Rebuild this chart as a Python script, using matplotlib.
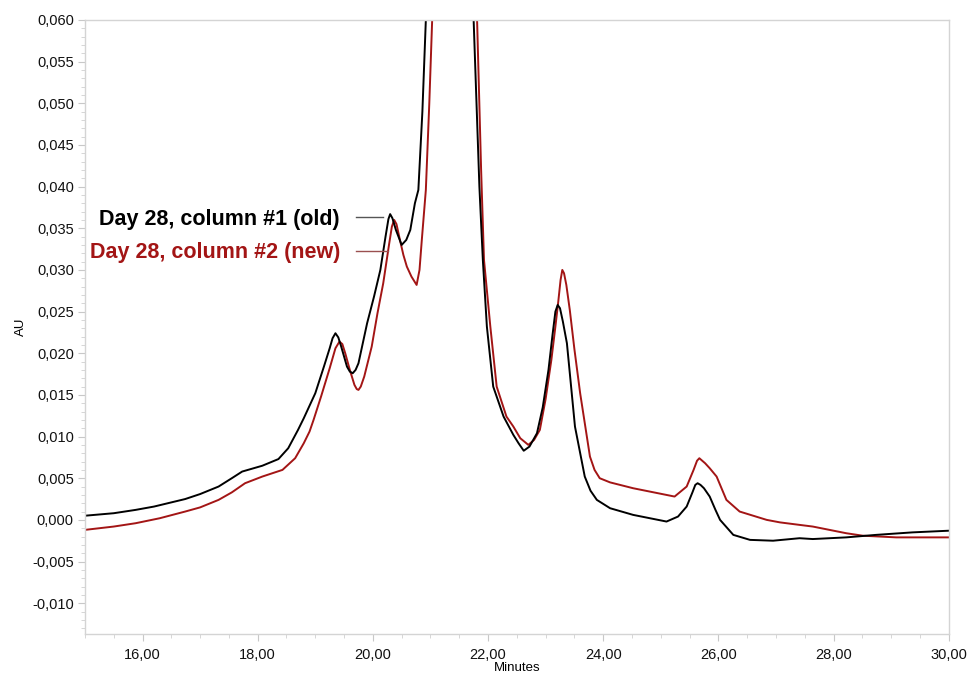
import matplotlib
matplotlib.use("Agg")
import matplotlib.pyplot as plt
from matplotlib.ticker import MultipleLocator, FuncFormatter

plt.rcParams['font.family'] = ['Liberation Sans', 'DejaVu Sans']

# Black trace: Day 28, column #1 (old)
old_minutes = [15.0, 15.5, 15.88, 16.2, 16.74, 17.0, 17.32, 17.55, 17.73, 18.08, 18.36, 18.53,
               18.7, 18.8, 19.0, 19.15, 19.25, 19.3, 19.35, 19.4, 19.45, 19.55, 19.6, 19.65,
               19.7, 19.75, 19.9, 20.02, 20.13, 20.22, 20.27, 20.3, 20.34, 20.4, 20.5, 20.58,
               20.65, 20.73, 20.79, 20.86, 20.92, 21.0, 21.1, 21.3, 21.5, 21.65, 21.75, 21.85,
               21.91, 21.98, 22.09, 22.27, 22.44, 22.53, 22.62, 22.72, 22.85, 22.95, 23.05,
               23.12, 23.17, 23.21, 23.25, 23.3, 23.37, 23.51, 23.68, 23.78, 23.89, 24.12,
               24.52, 25.1, 25.3, 25.45, 25.55, 25.6, 25.64, 25.69, 25.75, 25.85, 25.95,
               26.03, 26.26, 26.55, 26.95, 27.41, 27.64, 28.22, 28.74, 29.37, 30.0]
old_au = [0.0005, 0.0008, 0.0012, 0.0016, 0.0025, 0.0031, 0.0040, 0.0050, 0.0058, 0.0065,
          0.0073, 0.0086, 0.0108, 0.0122, 0.0152, 0.0184, 0.0206, 0.0218, 0.0224, 0.0219,
          0.0208, 0.0184, 0.0178, 0.0176, 0.0180, 0.0188, 0.0236, 0.0268, 0.0300, 0.0340,
          0.0361, 0.0367, 0.0362, 0.0348, 0.0330, 0.0336, 0.0348, 0.0380, 0.0396, 0.0490,
          0.0600, 0.0850, 0.1150, 0.1500, 0.1300, 0.0900, 0.0600, 0.0400, 0.0312, 0.0232,
          0.0160, 0.0124, 0.0102, 0.0092, 0.0083, 0.0088, 0.0104, 0.0135, 0.0180, 0.0222,
          0.0250, 0.0258, 0.0254, 0.0238, 0.0212, 0.0112, 0.0052, 0.0035, 0.0024, 0.0014,
          0.0006, -0.0002, 0.0004, 0.0016, 0.0033, 0.0042, 0.0044, 0.0042, 0.0038, 0.0028,
          0.0012, 0.0000, -0.0018, -0.0024, -0.0025, -0.0022, -0.0023, -0.0021, -0.0018,
          -0.0015, -0.0013]

# Red trace: Day 28, column #2 (new)
new_minutes = [15.0, 15.5, 15.88, 16.3, 16.74, 17.0, 17.32, 17.55, 17.78, 18.08, 18.43, 18.65,
               18.8, 18.9, 18.97, 19.1, 19.25, 19.35, 19.42, 19.47, 19.52, 19.6, 19.68, 19.72,
               19.75, 19.79, 19.85, 19.98, 20.08, 20.18, 20.28, 20.33, 20.37, 20.41, 20.47,
               20.53, 20.59, 20.67, 20.76, 20.81, 20.85, 20.92, 20.98, 21.03, 21.1, 21.3, 21.5,
               21.7, 21.81, 21.88, 21.93, 22.04, 22.15, 22.32, 22.44, 22.56, 22.70, 22.80,
               22.90, 23.0, 23.10, 23.17, 23.22, 23.26, 23.29, 23.32, 23.36, 23.42, 23.5,
               23.60, 23.77, 23.85, 23.94, 24.12, 24.52, 25.24, 25.45, 25.57, 25.63, 25.67,
               25.72, 25.77, 25.85, 25.97, 26.14, 26.37, 26.84, 27.07, 27.41, 27.64, 28.22,
               28.51, 29.09, 30.0]
new_au = [-0.0012, -0.0008, -0.0004, 0.0002, 0.0010, 0.0015, 0.0024, 0.0033, 0.0044, 0.0052,
          0.0060, 0.0074, 0.0092, 0.0106, 0.0120, 0.0148, 0.0182, 0.0206, 0.0214, 0.0211,
          0.0200, 0.0180, 0.0162, 0.0157, 0.0156, 0.0160, 0.0172, 0.0208, 0.0248, 0.0284,
          0.0330, 0.0352, 0.0360, 0.0355, 0.0336, 0.0318, 0.0304, 0.0292, 0.0282, 0.0300,
          0.0336, 0.0396, 0.0500, 0.0600, 0.0800, 0.1400, 0.1300, 0.0850, 0.0600, 0.0420,
          0.0312, 0.0232, 0.0160, 0.0124, 0.0112, 0.0098, 0.0090, 0.0096, 0.0108, 0.0145,
          0.0192, 0.0232, 0.0262, 0.0288, 0.0300, 0.0296, 0.0282, 0.0252, 0.0205, 0.0152,
          0.0076, 0.0060, 0.0050, 0.0045, 0.0038, 0.0028, 0.0040, 0.0060, 0.0071, 0.0074,
          0.0071, 0.0068, 0.0062, 0.0052, 0.0024, 0.0010, 0.0000, -0.0003, -0.0006, -0.0008,
          -0.0016, -0.0019, -0.0021, -0.0021]

labels = ["Day 28, column #1 (old)", "Day 28, column #2 (new)"]
colors = ["#000000", "#a31515"]

fig = plt.figure(figsize=(9.7, 6.75), dpi=100)
ax = fig.add_axes([0.0876, 0.0607, 0.8904, 0.9097])

ax.plot(new_minutes, new_au, color=colors[1], lw=1.4, solid_joinstyle='round')
ax.plot(old_minutes, old_au, color=colors[0], lw=1.4, solid_joinstyle='round')

ax.set_xlim(15, 30)
ax.set_ylim(-0.0137, 0.060)

ax.xaxis.set_major_locator(MultipleLocator(2))
ax.xaxis.set_minor_locator(MultipleLocator(0.5))
ax.yaxis.set_major_locator(MultipleLocator(0.005))
ax.yaxis.set_minor_locator(MultipleLocator(0.001))
ax.xaxis.set_major_formatter(FuncFormatter(lambda v, p: ("%.2f" % v).replace('.', ',')))
ax.yaxis.set_major_formatter(FuncFormatter(lambda v, p: ("%.3f" % (0 if abs(v) < 1e-9 else v)).replace('.', ',')))

for s in ax.spines.values():
    s.set_color("#d4d4d4")
    s.set_linewidth(1.0)
ax.tick_params(which='major', length=5, color="#c8c8c8", labelsize=10.5, labelcolor="#111111", pad=3)
ax.tick_params(axis='x', which='major', pad=5)
ax.tick_params(which='minor', length=3, color="#d0d0d0")

ax.set_xlabel("Minutes", fontsize=9.5, labelpad=0)
ax.set_ylabel("AU", fontsize=9.5, labelpad=4)

# Annotation-style legend
ax.text(19.43, 0.0361, labels[0], ha='right', va='center', fontsize=15.5,
        fontweight='bold', color=colors[0])
ax.text(19.43, 0.0321, labels[1], ha='right', va='center', fontsize=15.5,
        fontweight='bold', color=colors[1])
ax.plot([19.71, 20.18], [0.0364, 0.0364], color="#555555", lw=1.0)
ax.plot([19.71, 20.27], [0.0323, 0.0323], color="#9a5050", lw=1.0)

fig.savefig("out.png", dpi=100)
